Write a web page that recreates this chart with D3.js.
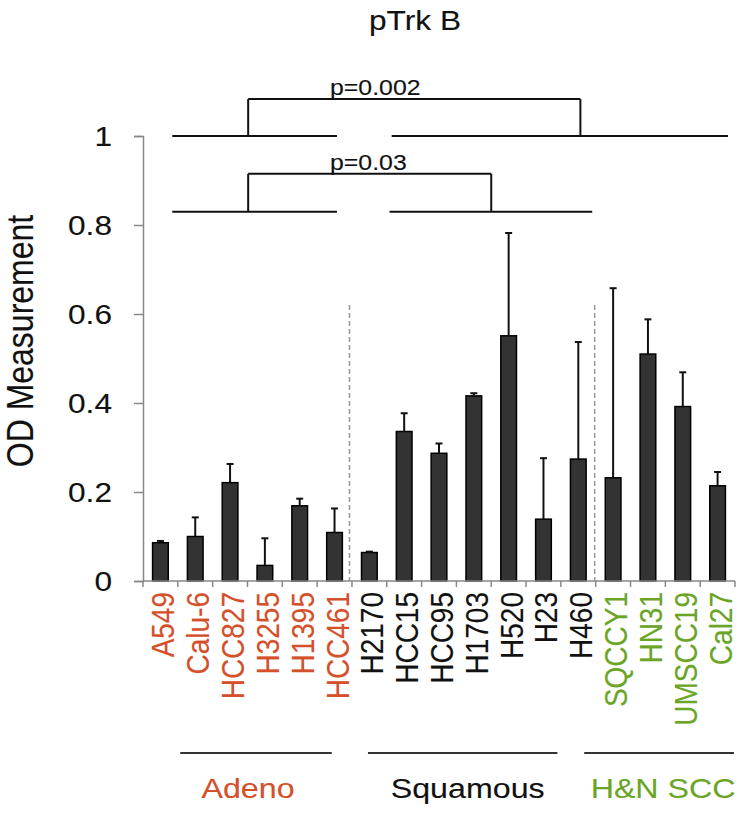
<!DOCTYPE html>
<html>
<head>
<meta charset="utf-8">
<script src="https://cdn.jsdelivr.net/npm/d3@7"></script>
<style>
  html, body { margin: 0; padding: 0; background: #fff; }
  svg { display: block; font-family: "Liberation Sans", Arial, sans-serif; }
</style>
</head>
<body>
<svg id="chart" width="750" height="814"></svg>
<script>
// ---------------- DATA ----------------
const title = "pTrk B";
const yLabel = "OD Measurement";
const categories = ["A549", "Calu-6", "HCC827", "H3255", "H1395", "HCC461",
  "H2170", "HCC15", "HCC95", "H1703", "H520", "H23", "H460",
  "SQCCY1", "HN31", "UMSCC19", "Cal27"];
const categoryGroup = ["Adeno", "Adeno", "Adeno", "Adeno", "Adeno", "Adeno",
  "Squamous", "Squamous", "Squamous", "Squamous", "Squamous", "Squamous", "Squamous",
  "H&N SCC", "H&N SCC", "H&N SCC", "H&N SCC"];
const values = [0.086, 0.100, 0.221, 0.035, 0.169, 0.109,
  0.064, 0.336, 0.287, 0.416, 0.551, 0.139, 0.274,
  0.232, 0.510, 0.392, 0.214];
const errors = [0.004, 0.043, 0.042, 0.061, 0.016, 0.054,
  0.002, 0.041, 0.022, 0.006, 0.231, 0.137, 0.263,
  0.426, 0.078, 0.077, 0.031];
const yTicks = [0, 0.2, 0.4, 0.6, 0.8, 1];
const groupNames = ["Adeno", "Squamous", "H&N SCC"];
const groupColors = ["#d4502b", "#111111", "#6aa526"];
// group underline extents, in category-index units
const groupSpans = [[1.07, 5.42], [6.46, 11.9], [12.67, 16.97]];
// dashed separators, in category-index units
const separators = [5.93, 12.97];
const separatorTop = 0.62;
// significance brackets (positions in category-index units, heights in OD units)
const bracketLabels = ["p=0.002", "p=0.03"];
const bracketLeftSpans = [[0.84, 5.57], [0.84, 5.57]];
const bracketRightSpans = [[7.14, 16.8], [7.08, 12.9]];
const bracketBase = [1.0, 0.83];
const bracketTop = [1.083, 0.915];
const bracketLeftLeg = [3.02, 3.02];
const bracketRightLeg = [12.56, 10.0];
const bracketTextAt = [5.37, 5.37];

// ---------------- LAYOUT ----------------
const svg = d3.select("#chart");
const x0 = 143, x1 = 735, yBase = 581, yTopPx = 136;
const SX = 1.13; // horizontal stretch of the original's lettering

const x = d3.scaleBand().domain(categories).range([x0, x1]).paddingInner(0.55).paddingOuter(0.275);
const xi = d3.scaleLinear().domain([0, categories.length]).range([x0, x1]);
const y = d3.scaleLinear().domain([0, 1]).range([yBase, yTopPx]);

const colorOf = g => groupColors[groupNames.indexOf(g)];

function label(px, py, txt, size, anchor, fill, rot) {
  return svg.append("text")
    .attr("transform", `translate(${px},${py}) scale(${SX},1)` + (rot ? ` rotate(${rot})` : ""))
    .attr("text-anchor", anchor).attr("font-size", size).attr("fill", fill)
    .attr("stroke", fill).attr("stroke-width", 0.12).text(txt);
}

// title
label(415, 30, title, 28, "middle", "#111");

// y axis (line + ticks from d3 axis; labels drawn stretched at the scale's positions)
const yAxis = d3.axisLeft(y).tickValues(yTicks).tickSize(9).tickFormat("");
const gy = svg.append("g").attr("transform", `translate(${x0},0)`).call(yAxis);
gy.select(".domain").attr("stroke", "#888").attr("stroke-width", 1.5);
gy.selectAll(".tick line").attr("stroke", "#888").attr("stroke-width", 1.5);
yTicks.forEach(t => {
  label(112, y(t), d3.format("~g")(t), 28, "end", "#111").attr("dy", "0.35em");
});

// y label
label(33, 341, yLabel, 32, "middle", "#111", -90);

// dashed separators
svg.selectAll(".sep").data(separators).join("line").attr("class", "sep")
  .attr("x1", d => xi(d)).attr("x2", d => xi(d))
  .attr("y1", y(separatorTop)).attr("y2", yBase)
  .attr("stroke", "#999").attr("stroke-width", 1.5).attr("stroke-dasharray", "5,3");

// bars
const data = categories.map((c, i) => ({ c, v: values[i], e: errors[i], g: categoryGroup[i] }));
svg.selectAll(".bar").data(data).join("rect").attr("class", "bar")
  .attr("x", d => x(d.c)).attr("width", x.bandwidth())
  .attr("y", d => y(d.v)).attr("height", d => yBase - y(d.v))
  .attr("fill", "#333").attr("stroke", "#000").attr("stroke-width", 1.5);

// error bars (upper only)
const eb = svg.selectAll(".err").data(data).join("g").attr("class", "err");
eb.append("line")
  .attr("x1", d => x(d.c) + x.bandwidth() / 2).attr("x2", d => x(d.c) + x.bandwidth() / 2)
  .attr("y1", d => y(d.v)).attr("y2", d => y(d.v + d.e))
  .attr("stroke", "#111").attr("stroke-width", 2);
eb.append("line")
  .attr("x1", d => x(d.c) + x.bandwidth() / 2 - 3.5).attr("x2", d => x(d.c) + x.bandwidth() / 2 + 3.5)
  .attr("y1", d => y(d.v + d.e)).attr("y2", d => y(d.v + d.e))
  .attr("stroke", "#111").attr("stroke-width", 2);

// x axis
const gx = svg.append("g").attr("transform", `translate(0,${yBase})`);
gx.append("line").attr("x1", x0).attr("x2", x1).attr("stroke", "#888").attr("stroke-width", 1.5);
gx.selectAll(".xt").data(d3.range(categories.length + 1)).join("line").attr("class", "xt")
  .attr("x1", d => xi(d)).attr("x2", d => xi(d)).attr("y1", 0).attr("y2", 6)
  .attr("stroke", "#888").attr("stroke-width", 1.5);

// x labels
data.forEach(d => {
  label(x(d.c) + x.bandwidth() / 2 + 14, 592, d.c, 28, "end", colorOf(d.g), -90);
});

// group underlines and labels
svg.selectAll(".gl").data(groupSpans).join("line").attr("class", "gl")
  .attr("x1", d => xi(d[0])).attr("x2", d => xi(d[1]))
  .attr("y1", 753).attr("y2", 753).attr("stroke", "#333").attr("stroke-width", 2.2);
groupNames.forEach((gname, i) => {
  const cx = (xi(groupSpans[i][0]) + xi(groupSpans[i][1])) / 2 + [-8, 5, 4][i];
  label(cx, 798, gname, 28.5, "middle", groupColors[i]);
});

// significance brackets
bracketLabels.forEach((lab, i) => {
  const g = svg.append("g");
  const seg = (xa, ya, xb, yb) => g.append("line")
    .attr("x1", xa).attr("y1", ya).attr("x2", xb).attr("y2", yb)
    .attr("stroke", "#111").attr("stroke-width", 2);
  seg(xi(bracketLeftSpans[i][0]), y(bracketBase[i]), xi(bracketLeftSpans[i][1]), y(bracketBase[i]));
  seg(xi(bracketRightSpans[i][0]), y(bracketBase[i]), xi(bracketRightSpans[i][1]), y(bracketBase[i]));
  seg(xi(bracketLeftLeg[i]), y(bracketBase[i]), xi(bracketLeftLeg[i]), y(bracketTop[i]));
  seg(xi(bracketRightLeg[i]), y(bracketBase[i]), xi(bracketRightLeg[i]), y(bracketTop[i]));
  seg(xi(bracketLeftLeg[i]), y(bracketTop[i]), xi(bracketRightLeg[i]), y(bracketTop[i]));
  label(xi(bracketTextAt[i]), y(bracketTop[i]) - 4, lab, 22, "start", "#111");
});
</script>
</body>
</html>
